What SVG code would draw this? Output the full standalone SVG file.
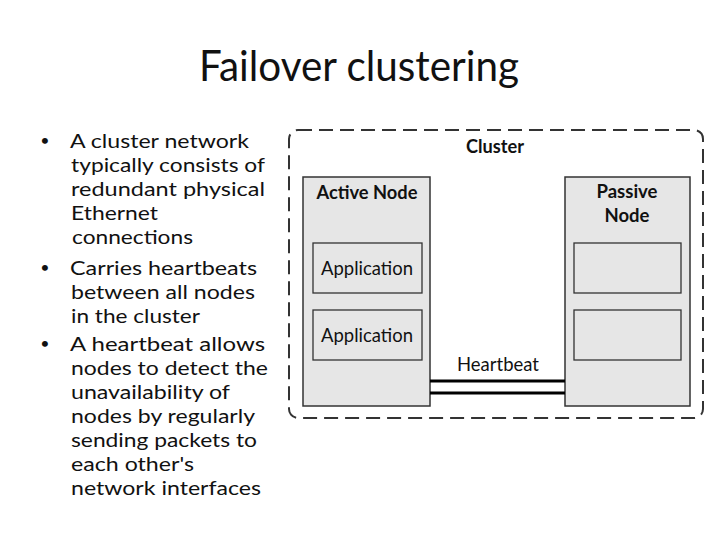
<svg xmlns="http://www.w3.org/2000/svg" width="720" height="540" viewBox="0 0 720 540">
<style>
text{font-family:Lato,"Open Sans","Liberation Sans",sans-serif;fill:#111}
.title{font-size:42px}
.body{font-size:19.5px}
.dot{font-size:16px;text-anchor:middle}
.lbl{font-size:19px;text-anchor:middle}
.b{font-weight:bold}
.node{fill:#e6e6e6;stroke:#333;stroke-width:1.5}
.box{fill:#e6e6e6;stroke:#333;stroke-width:1.3}
.link{stroke:#000;stroke-width:3;fill:none}
</style>
<rect width="720" height="540" fill="#fff"/>
<text class="title" x="359" y="81" text-anchor="middle" textLength="320" lengthAdjust="spacingAndGlyphs">Failover clustering</text>
<g id="bullets" class="body">
<text class="dot" x="45" y="146">•</text>
<text x="70" y="148" textLength="179" lengthAdjust="spacingAndGlyphs">A cluster network</text>
<text x="71" y="172" textLength="194" lengthAdjust="spacingAndGlyphs">typically consists of</text>
<text x="71" y="196" textLength="194" lengthAdjust="spacingAndGlyphs">redundant physical</text>
<text x="71" y="220" textLength="87" lengthAdjust="spacingAndGlyphs">Ethernet</text>
<text x="72" y="244" textLength="121" lengthAdjust="spacingAndGlyphs">connections</text>
<text class="dot" x="45" y="273">•</text>
<text x="70" y="275" textLength="187" lengthAdjust="spacingAndGlyphs">Carries heartbeats</text>
<text x="71" y="299" textLength="184" lengthAdjust="spacingAndGlyphs">between all nodes</text>
<text x="71" y="323" textLength="129" lengthAdjust="spacingAndGlyphs">in the cluster</text>
<text class="dot" x="45" y="349">•</text>
<text x="70" y="351" textLength="195" lengthAdjust="spacingAndGlyphs">A heartbeat allows</text>
<text x="71" y="375" textLength="197" lengthAdjust="spacingAndGlyphs">nodes to detect the</text>
<text x="71" y="399" textLength="159" lengthAdjust="spacingAndGlyphs">unavailability of</text>
<text x="71" y="423" textLength="184" lengthAdjust="spacingAndGlyphs">nodes by regularly</text>
<text x="71" y="447" textLength="186" lengthAdjust="spacingAndGlyphs">sending packets to</text>
<text x="71" y="471" textLength="123" lengthAdjust="spacingAndGlyphs">each other's</text>
<text x="71" y="495" textLength="190" lengthAdjust="spacingAndGlyphs">network interfaces</text>
</g>
<g id="cluster">
<rect x="289" y="130" width="414" height="288" rx="9" fill="#fff" stroke="#333" stroke-width="2" stroke-dasharray="14 7"/>
<text class="lbl b" x="495" y="153" textLength="58" lengthAdjust="spacingAndGlyphs">Cluster</text>
</g>
<g id="active-node">
<rect class="node" x="303" y="177" width="127" height="229"/>
<text class="lbl b" x="367" y="199" textLength="101" lengthAdjust="spacingAndGlyphs">Active Node</text>
</g>
<g id="app1">
<rect class="box" x="313" y="243" width="109" height="50"/>
<text class="lbl" x="367" y="275" textLength="92" lengthAdjust="spacingAndGlyphs">Application</text>
</g>
<g id="app2">
<rect class="box" x="313" y="310" width="109" height="50"/>
<text class="lbl" x="367" y="342" textLength="92" lengthAdjust="spacingAndGlyphs">Application</text>
</g>
<g id="passive-node">
<rect class="node" x="565" y="177" width="125" height="229"/>
<text class="lbl b" x="627" y="198" textLength="61" lengthAdjust="spacingAndGlyphs">Passive</text>
<text class="lbl b" x="627" y="222" textLength="45" lengthAdjust="spacingAndGlyphs">Node</text>
</g>
<g id="slot1">
<rect class="box" x="574" y="243" width="107" height="50"/>
</g>
<g id="slot2">
<rect class="box" x="574" y="310" width="107" height="50"/>
</g>
<g id="connectors">
<line class="link" x1="430" y1="381" x2="565" y2="381"/>
<line class="link" x1="430" y1="393" x2="565" y2="393"/>
<text class="lbl" x="498" y="371" textLength="82" lengthAdjust="spacingAndGlyphs">Heartbeat</text>
</g>
</svg>
